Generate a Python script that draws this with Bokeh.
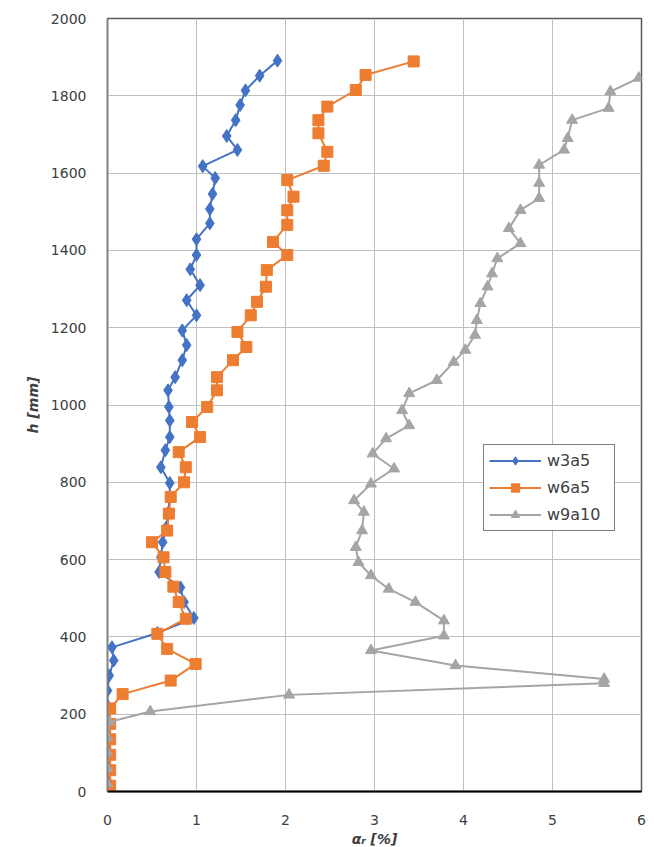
from bokeh.plotting import figure
from bokeh.models import Range1d, FixedTicker, Legend, LegendItem
from bokeh.embed import file_html
from bokeh.resources import INLINE

# ---- data (alpha_r [%], h [mm]) ----
w3a5_x = [1.91, 1.71, 1.55, 1.49, 1.44, 1.34, 1.46, 1.07, 1.21, 1.18, 1.15, 1.15,
          1.00, 1.00, 0.93, 1.04, 0.89, 1.00, 0.84, 0.89, 0.84, 0.76, 0.68, 0.69,
          0.70, 0.70, 0.65, 0.60, 0.70, 0.70, 0.68, 0.66, 0.62, 0.60, 0.58, 0.82,
          0.86, 0.97, 0.56, 0.05, 0.07, 0.02, 0.00, 0.00, 0.00, 0.00, 0.00, 0.00, 0.00]
w3a5_h = [1891, 1852, 1814, 1776, 1737, 1696, 1660, 1618, 1587, 1546, 1507, 1470,
          1429, 1388, 1351, 1310, 1271, 1232, 1193, 1155, 1116, 1072, 1038, 995,
          960, 917, 883, 839, 798, 760, 720, 683, 645, 606, 568, 528,
          490, 449, 410, 373, 339, 300, 261, 222, 183, 144, 105, 66, 27]

w6a5_x = [3.44, 2.90, 2.79, 2.47, 2.37, 2.37, 2.47, 2.43, 2.02, 2.09, 2.02, 2.02,
          1.86, 2.02, 1.79, 1.78, 1.68, 1.61, 1.46, 1.56, 1.41, 1.23, 1.23, 1.12,
          0.95, 1.04, 0.80, 0.88, 0.86, 0.71, 0.69, 0.67, 0.50, 0.63, 0.65, 0.74,
          0.80, 0.88, 0.56, 0.67, 0.99, 0.71, 0.17, 0.03, 0.03, 0.03, 0.03, 0.03, 0.03]
w6a5_h = [1889, 1854, 1815, 1772, 1737, 1703, 1655, 1619, 1582, 1539, 1504, 1466,
          1422, 1388, 1349, 1306, 1267, 1232, 1189, 1150, 1116, 1072, 1038, 995,
          956, 917, 878, 839, 800, 762, 719, 675, 645, 606, 568, 530,
          490, 447, 408, 369, 330, 287, 252, 215, 175, 135, 95, 55, 15]

w9a10_x = [5.97, 5.65, 5.63, 5.22, 5.17, 5.13, 4.85, 4.85, 4.85, 4.64, 4.51, 4.64,
           4.38, 4.32, 4.27, 4.19, 4.15, 4.13, 4.02, 3.89, 3.70, 3.39, 3.31, 3.39,
           3.13, 2.98, 3.22, 2.96, 2.77, 2.88, 2.86, 2.79, 2.82, 2.96, 3.16, 3.46,
           3.78, 3.78, 2.96, 3.91, 5.58, 5.58, 2.04, 0.48, 0.02, 0.00, 0.00, 0.00, 0.00]
w9a10_h = [1846, 1811, 1768, 1737, 1690, 1660, 1621, 1574, 1535, 1504, 1457, 1418,
           1379, 1340, 1306, 1263, 1219, 1181, 1142, 1111, 1064, 1030, 986, 947,
           913, 874, 835, 796, 753, 723, 675, 632, 593, 559, 524, 490,
           442, 403, 365, 326, 291, 280, 250, 207, 180, 140, 100, 60, 20]

x_ticks = [0, 1, 2, 3, 4, 5, 6]
y_ticks = [0, 200, 400, 600, 800, 1000, 1200, 1400, 1600, 1800, 2000]

BLUE = "#4472C4"
ORANGE = "#ED7D31"
GRAY = "#A5A5A5"
FONT = "DejaVu Sans"

p = figure(frame_width=534, frame_height=773,
           min_border_left=107, min_border_right=5, min_border_top=18, min_border_bottom=40,
           x_range=Range1d(0, 6), y_range=Range1d(0, 2000),
           output_backend="svg", toolbar_location=None,
           background_fill_color="white", border_fill_color="white")

p.outline_line_color = "#595959"
p.outline_line_width = 1.5

for ax in (p.xaxis, p.yaxis):
    ax.major_tick_line_color = None
    ax.minor_tick_line_color = None
    ax.major_label_text_font = FONT
    ax.major_label_text_font_size = "14px"
    ax.major_label_text_color = "#404040"
    ax.axis_label_text_font = FONT
    ax.axis_label_text_font_size = "14px"
    ax.axis_label_text_font_style = "bold italic"
    ax.axis_label_text_color = "#404040"

p.xaxis.ticker = FixedTicker(ticks=x_ticks)
p.yaxis.ticker = FixedTicker(ticks=y_ticks)
p.xaxis.axis_line_color = "black"
p.xaxis.axis_line_width = 2
p.yaxis.axis_line_color = "#7f7f7f"
p.yaxis.axis_line_width = 1.5
p.xaxis.major_label_standoff = 17
p.yaxis.major_label_standoff = 15
p.xaxis.axis_label = "\u03b1\u1d63 [%]"
p.yaxis.axis_label = "h [mm]"
p.xaxis.axis_label_standoff = 3
p.yaxis.axis_label_standoff = 7

p.xgrid.ticker = FixedTicker(ticks=x_ticks)
p.ygrid.ticker = FixedTicker(ticks=y_ticks)
p.grid.grid_line_color = "#BFBFBF"
p.grid.grid_line_width = 1

l1 = p.line(w3a5_x, w3a5_h, line_color=BLUE, line_width=2)
m1 = p.scatter(w3a5_x, w3a5_h, marker="diamond", size=13, fill_color=BLUE, line_color=BLUE)
l2 = p.line(w6a5_x, w6a5_h, line_color=ORANGE, line_width=2)
m2 = p.scatter(w6a5_x, w6a5_h, marker="square", size=11, fill_color=ORANGE, line_color=ORANGE)
l3 = p.line(w9a10_x, w9a10_h, line_color=GRAY, line_width=2)
m3 = p.scatter(w9a10_x, w9a10_h, marker="triangle", size=11, fill_color=GRAY, line_color=GRAY)

legend = Legend(items=[LegendItem(label="w3a5", renderers=[l1, m1]),
                       LegendItem(label="w6a5", renderers=[l2, m2]),
                       LegendItem(label="w9a10", renderers=[l3, m3])],
                location=(376, 260), margin=0, padding=5, spacing=6,
                label_height=21, glyph_height=21, glyph_width=52, label_standoff=6,
                label_width=62,
                label_text_font=FONT, label_text_font_size="16px",
                label_text_color="#404040",
                border_line_color="black", border_line_width=1.5,
                background_fill_color="white", background_fill_alpha=1.0)
p.add_layout(legend, "center")

open("out.html", "w").write(file_html(p, INLINE))
